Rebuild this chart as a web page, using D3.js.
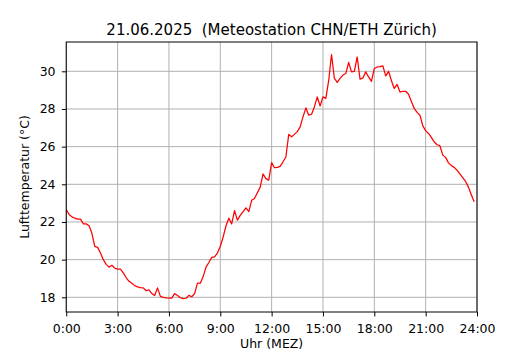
<!DOCTYPE html>
<html>
<head>
<meta charset="utf-8">
<script src="https://cdn.jsdelivr.net/npm/d3@7"></script>
<style>
  body { margin: 0; background: #fff; }
  svg { display: block; font-family: "DejaVu Sans", sans-serif; }
</style>
</head>
<body>
<script>
// ----- DATA -----
const title = "21.06.2025  (Meteostation CHN/ETH Zürich)";
const xLabel = "Uhr (MEZ)";
const yLabel = "Lufttemperatur (°C)";

// air temperature, one value every 10 minutes from 0:00 to 23:50
const temps = [
  22.65, 22.4, 22.27, 22.2, 22.15, 22.15, 21.9, 21.9, 21.8, 21.4,
  20.7, 20.65, 20.35, 20.0, 19.75, 19.6, 19.7, 19.55, 19.5, 19.5,
  19.3, 19.05, 18.85, 18.75, 18.62, 18.55, 18.52, 18.5, 18.35, 18.4,
  18.2, 18.1, 18.5, 18.05, 18.0, 17.97, 17.96, 17.96, 18.2, 18.1,
  17.98, 17.93, 17.95, 18.1, 18.03, 18.2, 18.75, 18.75, 19.1, 19.6,
  19.85, 20.12, 20.15, 20.35, 20.7, 21.2, 21.8, 22.2, 21.9, 22.6,
  22.1, 22.35, 22.55, 22.75, 22.55, 23.15, 23.25, 23.55, 23.85, 24.55,
  24.3, 24.22, 25.15, 24.88, 24.9, 24.95, 25.2, 25.45, 26.65, 26.52,
  26.65, 26.8, 27.05, 27.58, 28.06, 27.67, 27.72, 28.11, 28.64, 28.16,
  28.64, 28.56, 29.5, 30.89, 29.62, 29.41, 29.62, 29.8, 29.88, 30.47,
  29.97, 30.0, 30.76, 29.58, 29.65, 29.97, 29.7, 29.47, 30.15, 30.23,
  30.25, 30.29, 29.76, 30.0, 29.5, 29.09, 29.3, 28.9, 28.94, 28.94,
  28.78, 28.4, 28.03, 27.82, 27.67, 27.1, 26.85, 26.7, 26.49, 26.25,
  26.1, 26.05, 25.55, 25.43, 25.14, 25.0, 24.9, 24.75, 24.55, 24.35,
  24.15, 23.85, 23.45, 23.07
];
const stepMinutes = 10;

const xTicks = [0, 180, 360, 540, 720, 900, 1080, 1260, 1440];
const xTickLabels = ["0:00", "3:00", "6:00", "9:00", "12:00", "15:00", "18:00", "21:00", "24:00"];
const yTicks = [18, 20, 22, 24, 26, 28, 30];
const yDomain = [17.22, 31.556];

// ----- LAYOUT -----
const w = 530;
const h = 350;
const plotLeft = 66.25, plotRight = 477, plotTop = 42, plotBottom = 312;
const fontTick = 12.5;

const svg = d3.select("body").
append("svg").
attr("width", w).
attr("height", h);

const x = d3.scaleLinear().domain([0, 1440]).range([plotLeft, plotRight]);
const y = d3.scaleLinear().domain(yDomain).range([plotBottom, plotTop]);

// ----- GRID -----
svg.append("g").
selectAll("line").
data(xTicks).
enter().
append("line").
attr("x1", d => x(d)).attr("x2", d => x(d)).
attr("y1", plotTop).attr("y2", plotBottom).
attr("stroke", "#b0b0b0").
attr("stroke-width", 1);

svg.append("g").
selectAll("line").
data(yTicks).
enter().
append("line").
attr("x1", plotLeft).attr("x2", plotRight).
attr("y1", d => y(d)).attr("y2", d => y(d)).
attr("stroke", "#b0b0b0").
attr("stroke-width", 1);

// ----- LINE -----
const line = d3.line().
x((d, i) => x(i * stepMinutes)).
y(d => y(d));

svg.append("path").
datum(temps).
attr("d", line).
attr("fill", "none").
attr("stroke", "#ff0000").
attr("stroke-width", 1.25).
attr("stroke-linejoin", "round");

// ----- AXES -----
const xAxis = d3.axisBottom(x).
tickValues(xTicks).
tickFormat((d, i) => xTickLabels[i]).
tickSize(4.4).
tickPadding(8).
tickSizeOuter(0);

const yAxis = d3.axisLeft(y).
tickValues(yTicks).
tickFormat(d => d).
tickSize(4.4).
tickPadding(6.3).
tickSizeOuter(0);

const gx = svg.append("g").
attr("transform", `translate(0, ${plotBottom})`).
call(xAxis);

const gy = svg.append("g").
attr("transform", `translate(${plotLeft}, 0)`).
call(yAxis);

[gx, gy].forEach(g => {
  g.select(".domain").remove();
  g.selectAll(".tick line").attr("stroke", "#000").attr("stroke-width", 1);
  g.selectAll(".tick text").
  attr("fill", "#000").
  style("font-family", "DejaVu Sans").
  style("font-size", fontTick + "px");
});

// frame
svg.append("rect").
attr("x", plotLeft).
attr("y", plotTop).
attr("width", plotRight - plotLeft).
attr("height", plotBottom - plotTop).
attr("fill", "none").
attr("stroke", "#000").
attr("stroke-width", 1);

// ----- LABELS -----
svg.append("text").
attr("x", (plotLeft + plotRight) / 2).
attr("y", 34.5).
attr("text-anchor", "middle").
style("font-size", "15px").
style("white-space", "pre").
text(title);

svg.append("text").
attr("x", (plotLeft + plotRight) / 2).
attr("y", 347.7).
attr("text-anchor", "middle").
style("font-size", fontTick + "px").
text(xLabel);

svg.append("text").
attr("transform", `translate(29, ${(plotTop + plotBottom) / 2}) rotate(-90)`).
attr("text-anchor", "middle").
style("font-size", fontTick + "px").
text(yLabel);
</script>
</body>
</html>
